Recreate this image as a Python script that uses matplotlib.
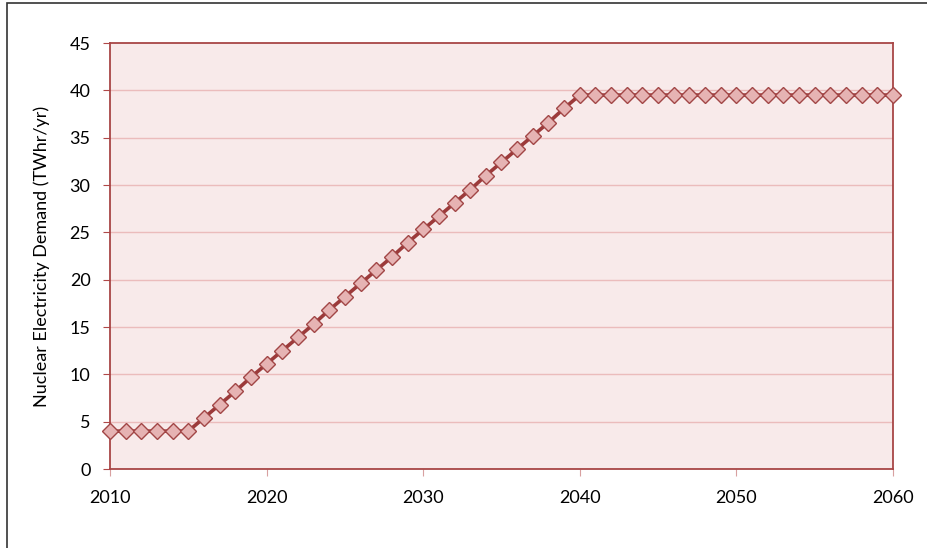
import numpy as np
import matplotlib.pyplot as plt
from matplotlib.patches import Rectangle

# Nuclear electricity demand by year
years = list(range(2010, 2061))
demand = [4.0, 4.0, 4.0, 4.0, 4.0, 4.0,
          5.4, 6.8, 8.2, 9.7, 11.1, 12.5, 13.9, 15.3, 16.8, 18.2,
          19.6, 21.0, 22.4, 23.9, 25.3, 26.7, 28.1, 29.5, 31.0, 32.4,
          33.8, 35.2, 36.6, 38.1, 39.5,
          39.5, 39.5, 39.5, 39.5, 39.5, 39.5, 39.5, 39.5, 39.5, 39.5,
          39.5, 39.5, 39.5, 39.5, 39.5, 39.5, 39.5, 39.5, 39.5, 39.5]
y_ticks = [0, 5, 10, 15, 20, 25, 30, 35, 40, 45]
x_ticks = [2010, 2020, 2030, 2040, 2050, 2060]

plt.rcParams['font.family'] = ['Lato', 'DejaVu Sans']

fig = plt.figure(figsize=(9.27, 5.48), dpi=100)
ax = fig.add_axes([110 / 927, 1 - 469 / 548, 783 / 927, 426 / 548])

ax.set_facecolor('#f8eaea')
for y in y_ticks[1:-1]:
    ax.axhline(y, color='#ebbcbc', linewidth=1, zorder=1)

ax.plot(years, demand, color='#9c3a3a', linewidth=2.6,
        marker='D', markersize=8, markerfacecolor='#e6b3b3',
        markeredgecolor='#a24646', markeredgewidth=1.0,
        clip_on=False, zorder=3)

ax.set_xlim(2010, 2060)
ax.set_ylim(0, 45)
ax.set_xticks(x_ticks)
ax.set_yticks(y_ticks)
ax.tick_params(axis='y', direction='out', length=5, color='#b04848',
               labelsize=13, pad=9)
ax.tick_params(axis='x', direction='out', length=5, color='#d8a0a0',
               labelsize=13, pad=10)
for s in ax.spines.values():
    s.set_color('#a84646')
    s.set_linewidth(1.3)

ax.set_ylabel('Nuclear Electricity Demand (TWhr/yr)', fontsize=13,
              labelpad=14)

# outer chart frame (cropped at right and bottom)
fig.patches.append(Rectangle((7.5 / 927, -0.1), 1.2, 1 - 3.5 / 548 + 0.1,
                             transform=fig.transFigure, fill=False,
                             edgecolor='#333333', linewidth=1.2))

fig.savefig('out.png', dpi=100)
